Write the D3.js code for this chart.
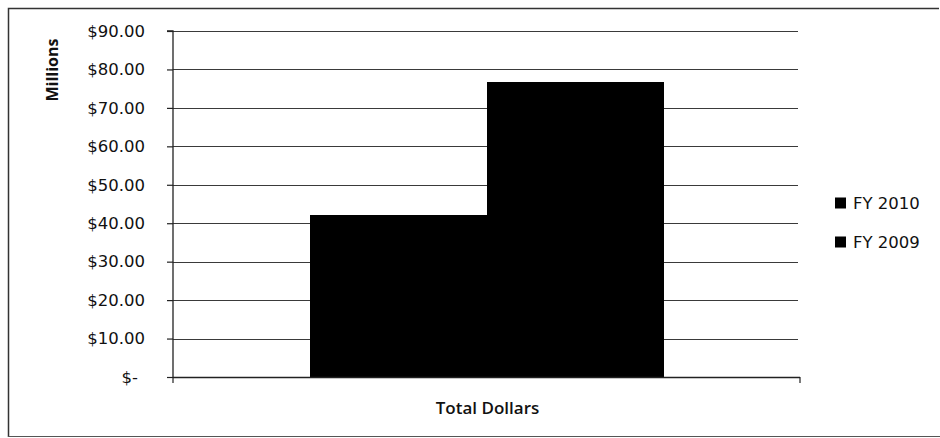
<!DOCTYPE html>
<html><head><meta charset="utf-8">
<script src="https://cdn.jsdelivr.net/npm/d3@7"></script>
<style>body{margin:0;background:#fff}svg{display:block}</style>
</head><body><svg id="c" width="940" height="438"></svg>
<script>
const categories = ["Total Dollars"];
const seriesNames = ["FY 2010", "FY 2009"];
const seriesValues = [42.1, 76.7];
const yTicks = [0, 10, 20, 30, 40, 50, 60, 70, 80, 90];
const yTickLabels = ["$-", "$10.00", "$20.00", "$30.00", "$40.00", "$50.00", "$60.00", "$70.00", "$80.00", "$90.00"];
const colors = ["#000000", "#000000"];

const svg = d3.select("#c");
const L = 173, R = 800, T = 31, B = 377;

// outer frame
svg.append("path").attr("d", "M8.5,437 V8.5 H939").attr("fill", "none").attr("stroke", "#333").attr("stroke-width", 1.5);
svg.append("line").attr("x1", 8).attr("x2", 940).attr("y1", 436.5).attr("y2", 436.5).attr("stroke", "#555").attr("stroke-width", 1.2);

const y = d3.scaleLinear().domain([0, 90]).range([B, T]);
const x0 = d3.scaleBand().domain(categories).range([L, R]).paddingInner(0).paddingOuter(0.383).round(true);
const x1 = d3.scaleBand().domain(seriesNames).range([0, x0.bandwidth()]).padding(0).round(true);

// gridlines
svg.append("g").selectAll("line").data(yTicks.filter(d => d > 0)).join("line")
  .attr("x1", L).attr("x2", R - 2).attr("y1", d => Math.round(y(d)) + 0.5).attr("y2", d => Math.round(y(d)) + 0.5)
  .attr("stroke", "#3a3a3a").attr("stroke-width", 1.1);

// bars
const g = svg.append("g").attr("shape-rendering", "crispEdges");
categories.forEach(c => {
  g.selectAll("rect").data(seriesNames.map((s, i) => ({s, v: seriesValues[i], i}))).join("rect")
    .attr("x", d => x0(c) + x1(d.s))
    .attr("width", x1.bandwidth() + (d => 0)())
    .attr("y", d => y(d.v))
    .attr("height", d => B - y(d.v))
    .attr("fill", d => colors[d.i]);
});

// y axis
const yAxis = d3.axisLeft(y).tickValues(yTicks).tickSize(6).tickFormat(d => yTickLabels[yTicks.indexOf(d)]).tickPadding(22);
const ya = svg.append("g").attr("transform", `translate(${L},0)`).call(yAxis);
ya.select(".domain").attr("stroke", "#222").attr("stroke-width", 1.3).attr("d", `M-6,${T}H0V${B}`);
ya.selectAll(".tick line").attr("stroke", "#222").attr("stroke-width", 1.2);
ya.selectAll(".tick text").style("font-size", "16.5px").style("font-family", "'DejaVu Sans'").style("fill", "#111")
  .attr("dx", d => d === 0 ? -7 : 0);

// x axis
const xa = svg.append("g").attr("transform", `translate(0,${B})`);
xa.append("line").attr("x1", L).attr("x2", R).attr("y1", 0.5).attr("y2", 0.5).attr("stroke", "#222").attr("stroke-width", 1.3);
[L, R].forEach(px => xa.append("line").attr("x1", px).attr("x2", px).attr("y1", 0).attr("y2", 6).attr("stroke", "#222").attr("stroke-width", 1.2));
xa.selectAll("text.cat").data(categories).join("text").attr("class", "cat")
  .attr("x", d => x0(d) + x0.bandwidth() / 2 + 1).attr("y", 37).attr("text-anchor", "middle")
  .style("font-family", "'Open Sans'").style("font-size", "17px").style("font-weight", 600).style("fill", "#111").text(d => d);

// y title
svg.append("text").attr("transform", "translate(58,70) rotate(-90)").attr("text-anchor", "middle")
  .style("font-family", "'Open Sans'").style("font-size", "16px").style("font-weight", 700).style("fill", "#111").text("Millions");

// legend
const leg = svg.append("g");
const legY = [203, 242];
seriesNames.forEach((s, i) => {
  leg.append("rect").attr("x", 835).attr("y", legY[i] - 5.5).attr("width", 11).attr("height", 11).attr("fill", colors[i]);
  leg.append("text").attr("x", 853).attr("y", legY[i]).attr("dy", "0.36em")
    .style("font-family", "'DejaVu Sans'").style("font-size", "16.5px").style("fill", "#111").text(s);
});
</script></body></html>
